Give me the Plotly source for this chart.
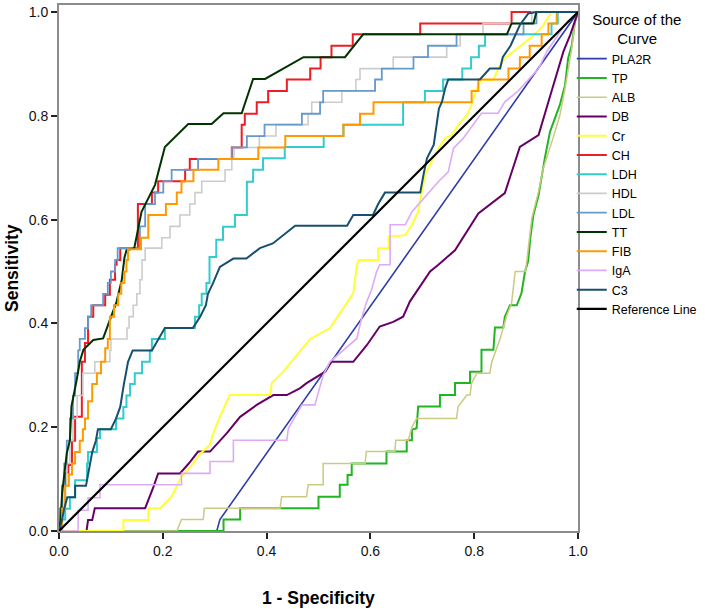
import plotly.graph_objects as go

# ---------------- data ----------------
TICKS = [0.0, 0.2, 0.4, 0.6, 0.8, 1.0]
TICK_LABELS = ["0.0", "0.2", "0.4", "0.6", "0.8", "1.0"]

PLA2R_x = [0, .304, .310, 1.0]
PLA2R_y = [0, 0, .022, 1.0]

TP_x = [0, .317, .317, .349, .349, .500, .500, .541, .541, .556, .556, .564, .564, .631, .631, .670, .670, .680, .680, .689,
        .692, .734, .734, .763, .763, .792, .792, .814, .814, .837, .840, .856, .859, .869, .882, .891, .898, .904, .908, .914,
        .924, .930, .936, .946, .965, .975, .981, .988, .994, 1.0]
TP_y = [0, 0, .022, .022, .044, .044, .066, .066, .089, .089, .108, .108, .130, .130, .153, .153, .175, .175, .195, .198,
        .240, .240, .262, .262, .285, .285, .307, .307, .349, .349, .392, .392, .413, .435, .435, .458, .50, .52, .564, .609,
        .647, .686, .718, .769, .821, .859, .911, .936, .98, 1.0]

ALB_x = [0, .227, .236, .278, .280, .426, .429, .477, .480, .509, .509, .590, .592, .647, .649, .673, .680, .689, .766, .769,
         .786, .792, .795, .805, .830, .834, .850, .863, .872, .879, .899, .911, .924, .933, .952, .965, .975, .988, .994, 1.0]
ALB_y = [0, 0, .022, .022, .044, .044, .066, .066, .089, .089, .130, .130, .153, .153, .175, .175, .200, .217, .217, .240,
         .262, .262, .285, .304, .304, .326, .371, .416, .439, .50, .50, .603, .654, .699, .757, .801, .853, .930, .98, 1.0]

DB_x = [0, .053, .056, .064, .069, .166, .182, .191, .233, .250, .268, .291, .323, .349, .381, .413, .439, .464, .477, .513,
        .525, .567, .593, .618, .644, .663, .676, .715, .731, .763, .808, .859, .888, .924, .943, .972, .985, 1.0]
DB_y = [0, 0, .021, .021, .044, .044, .085, .111, .111, .13, .153, .153, .188, .220, .243, .262, .262, .275, .285, .307,
        .326, .326, .358, .394, .403, .413, .442, .50, .513, .541, .612, .651, .740, .763, .827, .924, .956, 1.0]

Cr_x = [0, .124, .124, .172, .172, .195, .217, .227, .236, .256, .272, .291, .297, .310, .329, .407, .410, .432, .448, .484,
        .522, .551, .567, .574, .578, .615, .615, .635, .635, .667, .680, .692, .705, .718, .731, .744, .757, .769, .786, .795,
        .805, .814, .837, .846, .859, .891, .911, .930, .949, 1.0]
Cr_y = [0, 0, .021, .021, .044, .044, .066, .085, .105, .127, .149, .166, .188, .220, .262, .262, .285, .307, .326, .370,
        .391, .435, .458, .513, .522, .522, .545, .545, .567, .570, .590, .615, .686, .712, .737, .757, .763, .782, .801, .821,
        .853, .869, .869, .891, .911, .936, .952, .970, 1.0, 1.0]

CH_x = [0, .002, .006, .012, .018, .025, .031, .044, .050, .056, .066, .089, .098, .108, .111, .118, .152, .179, .191, .243,
        .252, .333, .352, .358, .381, .403, .439, .484, .504, .525, .566, .696, .872, 1.0]
CH_y = [0, .043, .087, .112, .127, .174, .220, .326, .362, .413, .435, .455, .484, .513, .522, .545, .630, .652, .674, .696,
        .717, .739, .783, .804, .826, .848, .870, .891, .913, .935, .957, .978, 1.0, 1.0]

LDH_x = [0, .006, .012, .021, .031, .054, .056, .073, .079, .110, .124, .130, .137, .146, .160, .175, .179, .204, .262, .270,
         .275, .284, .290, .303, .316, .339, .362, .374, .393, .435, .510, .548, .663, .705, .740, .777, .794, .809, .821, .949,
         .961, 1.0]
LDH_y = [0, .022, .043, .065, .098, .130, .152, .179, .196, .217, .239, .261, .283, .304, .326, .348, .370, .391, .413, .435,
         .457, .478, .528, .561, .586, .609, .673, .696, .718, .740, .761, .783, .826, .848, .870, .891, .913, .935, .957, .978,
         1.0, 1.0]

HDL_x = [0, .004, .010, .015, .021, .027, .035, .046, .069, .098, .100, .131, .135, .143, .150, .156, .160, .166, .198, .214,
         .233, .252, .262, .275, .320, .333, .337, .386, .418, .480, .487, .545, .572, .580, .644, .747, .773, .817, .911, 1.0]
HDL_y = [0, .043, .087, .13, .174, .217, .261, .304, .326, .348, .370, .391, .413, .435, .457, .484, .522, .545, .565, .587,
         .609, .630, .652, .674, .696, .717, .739, .761, .783, .804, .826, .848, .870, .891, .913, .935, .957, .978, 1.0, 1.0]

LDL_x = [0, .002, .006, .010, .015, .021, .027, .031, .037, .040, .050, .056, .062, .085, .094, .100, .108, .113, .156, .166,
         .185, .201, .217, .268, .333, .362, .396, .468, .503, .509, .609, .622, .683, .711, .766, .895, .920, 1.0]
LDL_y = [0, .043, .087, .130, .174, .217, .261, .304, .348, .370, .391, .413, .435, .457, .478, .50, .522, .545, .587, .630,
         .652, .674, .696, .717, .739, .761, .783, .804, .826, .848, .870, .891, .913, .935, .957, .978, 1.0, 1.0]

TT_x = [0, .003, .006, .015, .021, .024, .034, .040, .047, .066, .085, .098, .111, .121, .126, .130, .145, .159, .185, .204,
        .224, .249, .294, .317, .352, .374, .397, .471, .551, .586, .863, .872, .914, .920, 1.0]
TT_y = [0, .02, .073, .15, .175, .24, .291, .326, .349, .368, .371, .407, .442, .484, .526, .541, .545, .615, .667, .740,
        .760, .784, .784, .805, .805, .871, .871, .913, .913, .957, .957, .978, .978, 1.0, 1.0]

FIB_x = [0, .006, .012, .019, .025, .031, .040, .046, .050, .056, .064, .073, .081, .089, .094, .098, .106, .114, .120, .126,
         .130, .133, .158, .172, .206, .227, .236, .259, .307, .384, .436, .548, .580, .606, .795, .808, .866, .888, .907, .930,
         .943, .959, 1.0]
FIB_y = [0, .043, .087, .109, .13, .152, .174, .196, .217, .25, .283, .304, .326, .352, .370, .413, .435, .457, .478, .5,
         .522, .543, .565, .609, .630, .652, .674, .696, .717, .739, .761, .783, .804, .826, .848, .870, .891, .913, .935, .957,
         .978, 1.0, 1.0]

IgA_x = [0, .037, .037, .056, .056, .079, .079, .236, .236, .291, .291, .336, .336, .439, .442, .468, .493, .509, .522, .548,
         .574, .583, .593, .602, .612, .618, .638, .638, .667, .680, .712, .731, .750, .760, .779, .798, .814, .846, .859, .885,
         .904, .924, .940, .962, .978, 1.0]
IgA_y = [0, 0, .040, .040, .064, .064, .089, .089, .111, .111, .134, .134, .175, .175, .198, .243, .243, .30, .326, .349,
         .371, .41, .442, .464, .50, .513, .513, .590, .590, .615, .651, .673, .692, .737, .757, .782, .805, .805, .827, .848,
         .869, .891, .924, .956, .98, 1.0]

C3_x = [0, .006, .010, .016, .031, .031, .052, .056, .060, .064, .071, .075, .100, .110, .118, .121, .125, .129, .133, .142,
        .179, .204, .258, .272, .283, .287, .297, .310, .336, .361, .387, .412, .429, .455, .555, .567, .605, .615, .628, .696,
        .703, .709, .722, .729, .732, .738, .744, .750, .811, .830, .850, .855, .870, .888, .904, .920, 1.0]
C3_y = [0, .022, .043, .065, .065, .087, .087, .109, .130, .152, .174, .196, .196, .217, .239, .261, .283, .304, .326, .348,
        .348, .391, .391, .413, .435, .457, .478, .509, .525, .525, .545, .554, .567, .588, .588, .609, .609, .630, .652, .652,
        .690, .718, .744, .789, .814, .827, .853, .870, .870, .891, .891, .913, .935, .975, .997, 1.0, 1.0]

REF_x = [0, 1]
REF_y = [0, 1]

# ---------------- styles ----------------
series = [
    ("PLA2R", PLA2R_x, PLA2R_y, "#2E3DA8", 1.6, "linear"),
    ("TP", TP_x, TP_y, "#22B522", 2.0, "linear"),
    ("ALB", ALB_x, ALB_y, "#CACA80", 1.5, "linear"),
    ("DB", DB_x, DB_y, "#660066", 2.0, "linear"),
    ("Cr", Cr_x, Cr_y, "#FFFF33", 2.0, "linear"),
    ("CH", CH_x, CH_y, "#EE1C24", 2.0, "hv"),
    ("LDH", LDH_x, LDH_y, "#33CCCC", 2.0, "hv"),
    ("HDL", HDL_x, HDL_y, "#CCCCCC", 1.6, "hv"),
    ("LDL", LDL_x, LDL_y, "#6699CC", 1.8, "hv"),
    ("TT", TT_x, TT_y, "#003300", 2.0, "linear"),
    ("FIB", FIB_x, FIB_y, "#FF9900", 2.0, "hv"),
    ("IgA", IgA_x, IgA_y, "#DDAAF5", 1.6, "linear"),
    ("C3", C3_x, C3_y, "#17506E", 2.0, "linear"),
    ("Reference Line", REF_x, REF_y, "#000000", 2.2, "linear"),
]

fig = go.Figure()
for name, xs, ys, color, width, shape in series:
    fig.add_trace(go.Scatter(x=xs, y=ys, mode="lines", name=name,
                             line=dict(color=color, width=width, shape=shape)))

axis_common = dict(
    tickvals=TICKS, ticktext=TICK_LABELS, ticks="outside", ticklen=6, tickwidth=1.5,
    tickcolor="#222222", showgrid=False, zeroline=False, showline=True,
    linecolor="#8c8c8c", linewidth=2, mirror=True,
    tickfont=dict(size=14, color="#111111"),
)

fig.update_layout(
    width=705, height=609,
    margin=dict(l=59, r=127, t=5, b=78, autoexpand=False),
    paper_bgcolor="white", plot_bgcolor="white",
    font=dict(family="Liberation Sans, Arial, sans-serif", color="black"),
    xaxis=dict(range=[0, 1], **axis_common),
    yaxis=dict(range=[0, 1.0135], **axis_common),
    legend=dict(
        x=0.988, xanchor="left", y=1.0, yanchor="top",
        title=dict(text="Source of the<br>&nbsp;&nbsp;&nbsp;&nbsp;&nbsp;&nbsp;Curve", side="top center",
                   font=dict(size=15)),
        font=dict(size=12.5), bgcolor="rgba(0,0,0,0)", tracegroupgap=0, itemwidth=30,
    ),
    annotations=[
        dict(text="<b>1 - Specificity</b>", xref="paper", yref="paper", x=0.5, y=-0.127,
             xanchor="center", yanchor="middle", showarrow=False, font=dict(size=17.5)),
        dict(text="<b>Sensitivity</b>", xref="paper", yref="paper", x=-0.0906, y=0.5,
             xanchor="center", yanchor="middle", showarrow=False, textangle=-90, font=dict(size=17.5)),
    ],
)

fig.write_html("out.html", config={"displayModeBar": False},
               post_script="document.body.style.margin='0';")
